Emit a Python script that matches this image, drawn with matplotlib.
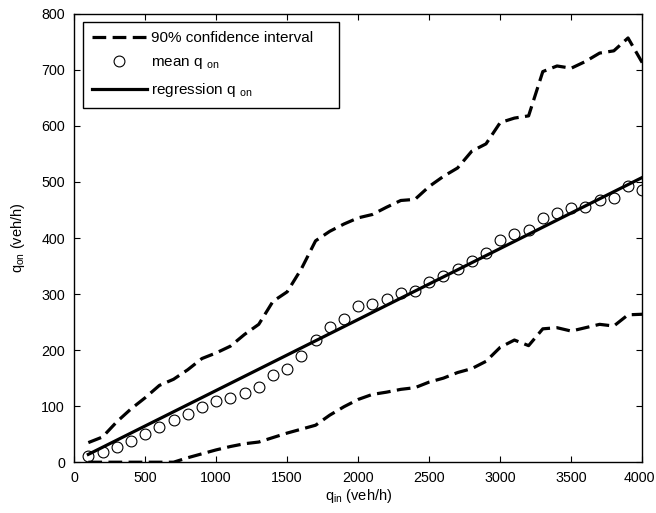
import matplotlib

matplotlib.use("Agg")

import matplotlib.pyplot as plt
from matplotlib.transforms import ScaledTranslation

plt.rcParams["font.family"] = ["Liberation Sans", "DejaVu Sans"]
plt.rcParams["mathtext.fontset"] = "custom"
plt.rcParams["mathtext.rm"] = "Liberation Sans"
plt.rcParams["mathtext.it"] = "Liberation Sans"

q_in = [100, 200, 300, 400, 500, 600, 700, 800, 900, 1000,
        1100, 1200, 1300, 1400, 1500, 1600, 1700, 1800, 1900, 2000,
        2100, 2200, 2300, 2400, 2500, 2600, 2700, 2800, 2900, 3000,
        3100, 3200, 3300, 3400, 3500, 3600, 3700, 3800, 3900, 4000]

mean_q_on = [11, 18, 27, 38, 50, 63, 75, 86, 98, 109,
             115, 124, 135, 155, 167, 190, 218, 241, 255, 278,
             282, 291, 302, 305, 322, 333, 345, 359, 373, 396,
             407, 414, 435, 444, 453, 456, 468, 471, 493, 486]

ci_upper = [35, 45, 72, 95, 115, 137, 148, 165, 185, 195,
            207, 228, 246, 287, 304, 345, 395, 412, 425, 436,
            442, 455, 467, 469, 492, 510, 525, 555, 568, 606,
            614, 618, 697, 707, 703, 715, 730, 734, 757, 713]

ci_lower = [0, 0, 0, 0, 0, 0, 0, 8, 15, 22,
            28, 33, 36, 44, 52, 59, 66, 84, 99, 112,
            121, 125, 130, 133, 143, 150, 160, 167, 180, 205,
            218, 208, 238, 240, 234, 240, 246, 243, 263, 264]

reg_x = [100, 4000]
reg_y = [14, 508]

fig = plt.figure(figsize=(6.56, 5.13), dpi=100)
ax = fig.add_axes([0.113, 0.099, 0.866, 0.874])

dash = (4.3, 2.0)
ax.plot(q_in, ci_upper, color="black", linewidth=2.3, dashes=dash,
        label="90% confidence interval    ")
ax.plot(q_in, ci_lower, color="black", linewidth=2.3, dashes=dash)
ax.plot(q_in, mean_q_on, linestyle="none", marker="o", markersize=7.8,
        markerfacecolor="none", markeredgecolor="black", markeredgewidth=0.8,
        label=r"mean q $_{\mathrm{on}}$")
ax.plot(reg_x, reg_y, color="black", linewidth=2.3,
        label=r"regression q $_{\mathrm{on}}$")

ax.set_xlim(0, 4000)
ax.set_ylim(0, 800)
ax.set_xticks(range(0, 4001, 500))
ax.set_yticks(range(0, 801, 100))
ax.tick_params(direction="in", top=True, right=True, length=4, width=0.8,
               labelsize=10.3, pad=6.5)
for spine in ax.spines.values():
    spine.set_linewidth(1.0)

# last x label sits a little left so it stays inside the figure
last = ax.get_xticklabels()[-1]
last.set_transform(last.get_transform()
                   + ScaledTranslation(-3 / 100, 0, fig.dpi_scale_trans))

ax.set_xlabel(r"q$_{\mathrm{in}}$ (veh/h)", fontsize=10.5, labelpad=1)
ax.set_ylabel(r"q$_{\mathrm{on}}$ (veh/h)", fontsize=10.5, labelpad=10)

leg = ax.legend(loc="upper left", fontsize=11, frameon=True, fancybox=False,
                edgecolor="black", framealpha=1, handlelength=3.6,
                borderaxespad=0.55, borderpad=0.6, labelspacing=0.65,
                handletextpad=0.25)
leg.get_frame().set_linewidth(1.0)

fig.savefig("out.png", dpi=100)
plt.close(fig)
